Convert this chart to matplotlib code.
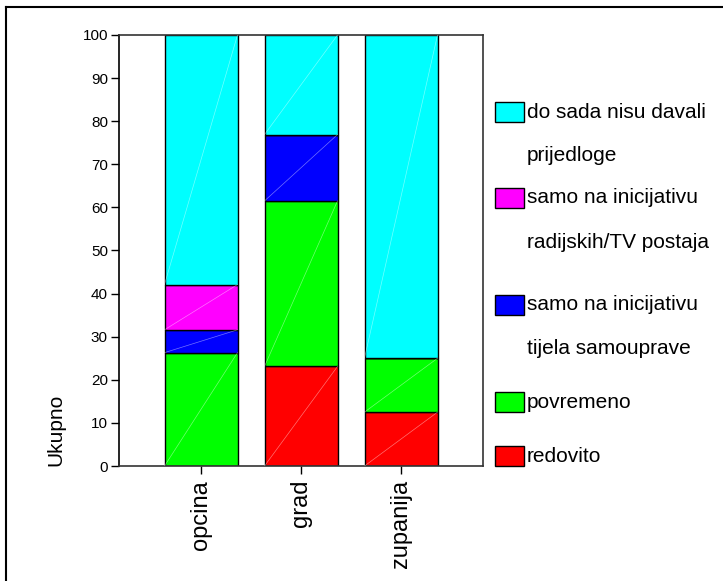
import numpy as np
import matplotlib
matplotlib.use("Agg")
import matplotlib.pyplot as plt
from matplotlib.patches import Rectangle
from matplotlib.lines import Line2D

plt.rcParams['font.family'] = ['Liberation Sans', 'DejaVu Sans']

# data (percent of each group)
categories = ['opcina', 'grad', 'zupanija']
series_names = ['redovito', 'povremeno', 'samo na inicijativu\ntijela samouprave',
                'samo na inicijativu\nradijskih/TV postaja', 'do sada nisu davali\nprijedloge']
redovito = [0.0, 23.1, 12.5]
povremeno = [26.3, 38.4, 12.5]
tijela = [5.3, 15.4, 0.0]
radijskih = [10.5, 0.0, 0.0]
nisu_davali = [57.9, 23.1, 75.0]
colors = ['#ff0000', '#00ff00', '#0000ff', '#ff00ff', '#00ffff']

W, H = 723, 581
fig = plt.figure(figsize=(W / 100, H / 100), dpi=100)
ax = fig.add_axes([119 / W, 1 - 466 / H, (483 - 119) / W, (466 - 35) / H])

x = np.arange(len(categories))
width = 0.73
bottom = np.zeros(len(categories))
for vals, col in zip([redovito, povremeno, tijela, radijskih, nisu_davali], colors):
    vals = np.array(vals)
    ax.bar(x, vals, width, bottom=bottom, color=col, edgecolor='black', linewidth=1.0, zorder=2)
    # faint diagonal highlight inside each segment
    for xi, b, v in zip(x, bottom, vals):
        if v > 0:
            ax.plot([xi - width / 2, xi + width / 2], [b, b + v], color='white',
                    lw=0.5, alpha=0.45, zorder=3)
    bottom += vals

ax.set_xlim(-0.82, 2.82)
ax.set_ylim(0, 100)
ax.set_yticks(np.arange(0, 101, 10))
ax.set_xticks(x)
ax.set_xticklabels(categories, rotation=90, fontsize=17)
ax.tick_params(axis='y', labelsize=11, length=6, width=1, direction='out', pad=2)
ax.tick_params(axis='x', length=6, width=1, direction='out', pad=4)
for s in ['top', 'right', 'bottom']:
    ax.spines[s].set_color('#333333')
    ax.spines[s].set_linewidth(1.2)
ax.spines['left'].set_color('black')
ax.spines['left'].set_linewidth(1.2)

fig.text(56 / W, 1 - 430 / H, 'Ukupno', rotation=90, ha='center', va='center', fontsize=15)

# legend drawn by hand, top entry first
legend_order = [4, 3, 2, 1, 0]
line_y = [[112, 155], [198, 242], [305, 348], [402], [456]]
for idx, ys in zip(legend_order, line_y):
    y0 = ys[0]
    fig.add_artist(Rectangle((495 / W, 1 - (y0 + 10) / H), 29 / W, 20 / H,
                             facecolor=colors[idx], edgecolor='black', linewidth=1.0,
                             transform=fig.transFigure))
    for line, yy in zip(series_names[idx].split('\n'), ys):
        fig.text(527 / W, 1 - yy / H, line, ha='left', va='center', fontsize=15)

# outer frame (left and top only)
fig.add_artist(Line2D([6 / W, 6 / W], [0, 1 - 7 / H], color='black', lw=1.5, transform=fig.transFigure))
fig.add_artist(Line2D([6 / W, 1], [1 - 7 / H, 1 - 7 / H], color='black', lw=1.5, transform=fig.transFigure))

fig.savefig('out.png', dpi=100)
